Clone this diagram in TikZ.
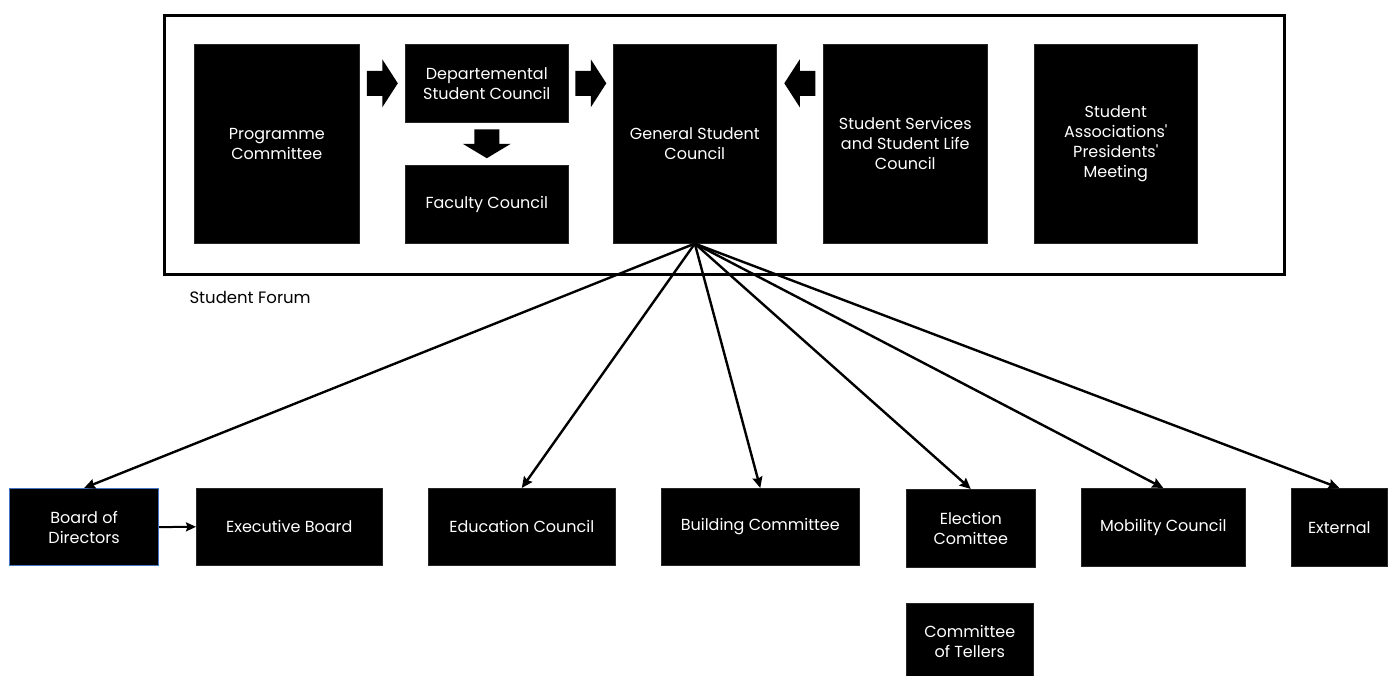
\documentclass[tikz,border=0pt]{standalone}
\usepackage{fontspec}
\setmainfont{Poppins}
\usetikzlibrary{arrows.meta,calc}
\definecolor{boardblue}{RGB}{68,114,196}
\begin{document}
\begin{tikzpicture}[x=1pt,y=-1pt,
  box/.style={fill=black,draw=black!85,line width=0.6pt,text=white,align=center,anchor=north west,inner sep=2pt,font=\fontsize{16}{20}\selectfont},
  link/.style={line width=2.4pt,-{Stealth[length=11pt,width=10pt,inset=1.5pt]}},
  blockarrow/.pic={\fill (-15.5,-12.5) -- (0,-12.5) -- (0,-24) -- (15.5,0) -- (0,24) -- (0,12.5) -- (-15.5,12.5) -- cycle;}
]
\useasboundingbox (0,0) rectangle (1392,675);
\fill[white] (0,0) rectangle (1392,675);
% Student forum frame
\node[draw=black,line width=2.5pt,minimum width=1120pt,minimum height=259pt,anchor=north west,inner sep=0pt] (forum) at (163,14) {};
\node[anchor=west,font=\fontsize{16.5}{18}\selectfont] (forumlabel) at (186,297) {Student Forum};
% top boxes
\node[box,minimum width=165pt,minimum height=199pt] (prog) at (194,44) {Programme\\Committee};
\node[box,minimum width=163pt,minimum height=78pt] (dept) at (405,44) {Departemental\\Student Council};
\node[box,minimum width=163pt,minimum height=78pt] (fac) at (405,165) {Faculty Council};
\node[box,minimum width=163pt,minimum height=199pt] (gen) at (613,44) {General Student\\Council};
\node[box,minimum width=164pt,minimum height=199pt] (serv) at (823,44) {Student Services\\and Student Life\\Council};
\node[box,minimum width=163pt,minimum height=199pt] (assoc) at (1034,44) {Student\\Associations\textquotesingle\\Presidents\textquotesingle\\Meeting};
% block arrows
\coordinate (a1) at ($(prog.east|-dept.west)!0.5!(dept.west)$);
\coordinate (a2) at ($(dept.east)!0.5!(gen.west|-dept.east)$);
\coordinate (a3) at ($(gen.east|-dept.east)!0.5!(serv.west|-dept.east)$);
\coordinate (a4) at ($(dept.south)!0.5!(fac.north)$);
\pic at (a1) {blockarrow};
\pic at (a2) {blockarrow};
\pic[rotate=180] at (a3) {blockarrow};
\pic[rotate=-90,xscale=0.93] at (a4) {blockarrow};
% bottom boxes
\node[box,draw=boardblue,line width=1.2pt,minimum width=149pt,minimum height=77pt] (board) at (9,488) {Board of\\Directors};
\node[box,minimum width=186pt,minimum height=77pt] (exec) at (196,488) {Executive Board};
\node[box,minimum width=187pt,minimum height=77pt] (edu) at (428,488) {Education Council};
\node[box,minimum width=198pt,minimum height=77pt] (build) at (661,488) {Building Committee};
\node[box,minimum width=129pt,minimum height=78pt] (elect) at (906,489) {Election\\Comittee};
\node[box,minimum width=164pt,minimum height=78pt] (mob) at (1081,488) {Mobility Council};
\node[box,minimum width=96pt,minimum height=78pt] (ext) at (1291,488) {External};
\node[box,minimum width=127pt,minimum height=76pt] (tell) at (906,603) {Committee\\of Tellers};
% connectors
\foreach \t in {board,edu,build,elect,mob,ext}
  \draw[link] (gen.south) -- (\t.north);
\draw[line width=2pt,-{Stealth[length=10pt,width=9pt,inset=1.5pt]}] (board.east) -- (exec.west);
\end{tikzpicture}
\end{document}
